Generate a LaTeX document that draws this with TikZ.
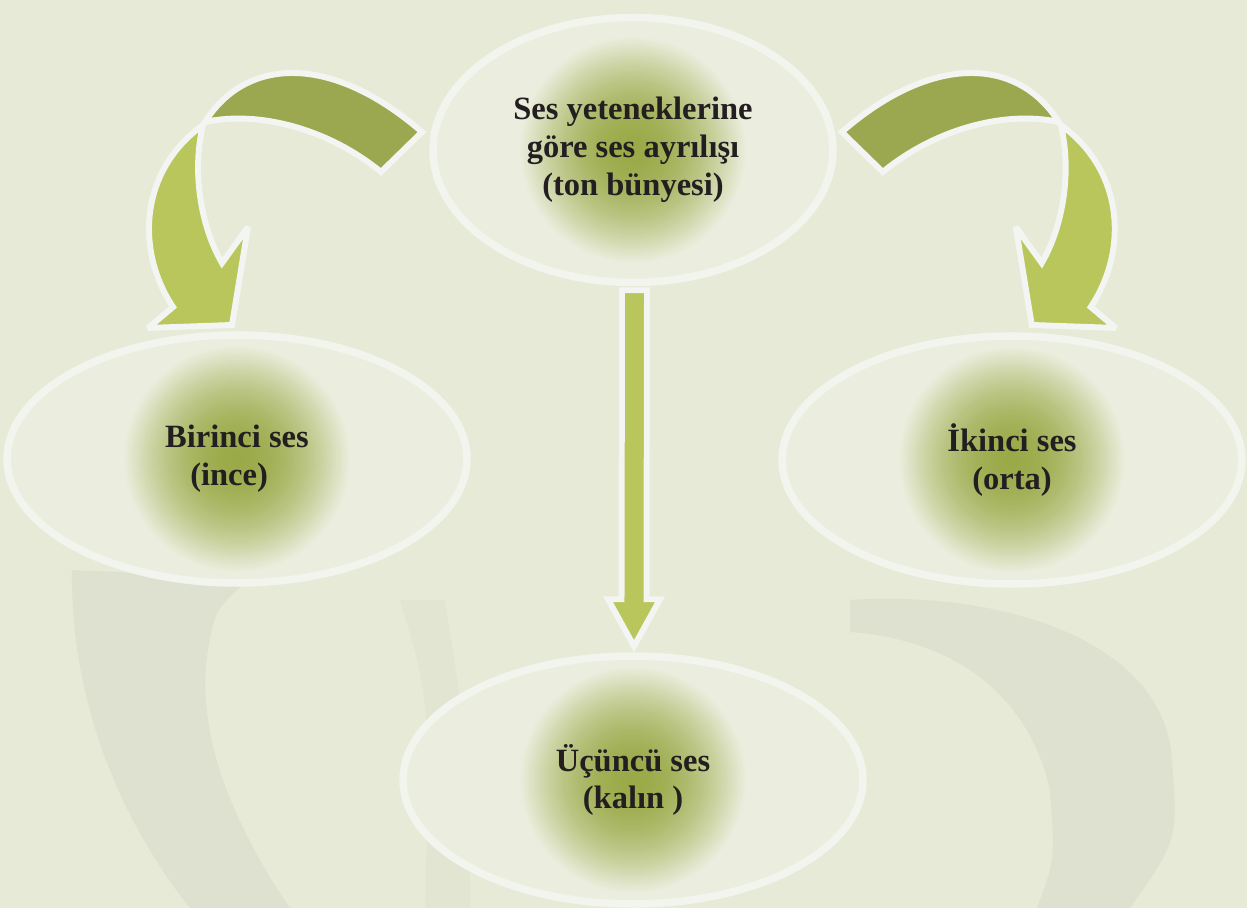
\documentclass[tikz,border=0pt]{standalone}
\usepackage{fontspec}
\setmainfont{Liberation Serif}
\usetikzlibrary{shapes.geometric,calc}

\definecolor{bgpaper}{HTML}{E7EAD7}
\definecolor{watermark}{HTML}{DEE1CF}
\definecolor{ellfill}{HTML}{EBEEDE}
\definecolor{ellline}{HTML}{F2F4EE}
\definecolor{glowgreen}{HTML}{9AAA48}
\definecolor{arrowdark}{HTML}{9CA850}
\definecolor{arrowlight}{HTML}{B9C65B}
\definecolor{arrowline}{HTML}{F3F5F2}
\definecolor{inkdark}{HTML}{231F20}

\begin{document}
\begin{tikzpicture}[x=0.02cm, y=-0.02cm, line join=round,
  bubble/.style={ellipse, inner sep=0pt, minimum width=9.2cm, minimum height=4.96cm,
    fill=ellfill, draw=ellline, line width=4.3pt, align=center, text=inkdark,
    font=\bfseries\fontsize{18.5}{21.5}\selectfont,
    path picture={
      % soft green glow in the middle
      \foreach \k in {0,...,49} {
        \pgfmathsetmacro\rr{2.3*(1-\k/50)}
        \pgfmathsetmacro\pp{100*(1-(\rr/2.3)^2)^1.1}
        \fill[glowgreen!\pp!ellfill] (path picture bounding box.center) circle (\rr cm);
      }}},
  bandback/.style={fill=arrowdark, draw=arrowline, line width=3.4pt, line join=miter, miter limit=3},
  bandfront/.style={bandback, fill=arrowlight}]

  % Paper and faint clef watermark
  \fill[bgpaper] (0,0) rectangle (1247,908);
  \useasboundingbox (0,0) rectangle (1247,908);
  \fill[watermark] (72,570) .. controls (70,700) and (120,820) .. (190,908) -- (290,908)
    .. controls (230,820) and (195,730) .. (208,650) .. controls (215,610) .. (250,578) -- cycle;
  \fill[watermark] (850,600) .. controls (1000,590) and (1165,640) .. (1172,760)
    .. controls (1178,840) .. (1130,908) -- (1037,908) .. controls (1055,860) .. (1050,790)
    .. controls (1030,700) and (960,640) .. (850,632) -- cycle;
  \fill[watermark, opacity=0.5] (400,600) .. controls (430,700) .. (425,908) -- (470,908)
    .. controls (470,760) .. (445,600) -- cycle;

  % Ellipses
  \node[bubble, minimum width=8cm, minimum height=5.3cm] (top) at (633,150)
    {Ses yeteneklerine\\göre ses ayrılışı\\(ton bünyesi)};
  \node[bubble] (first) at (237,459) {Birinci ses\\(ince)\hspace*{9pt}};
  \node[bubble] (second) at (1012,460) {İkinci ses\\(orta)};
  \node[bubble] (third) at (633,780) {Üçüncü ses\\(kalın )};

  % Curved arrows (right one is the mirror image)
  \foreach \sx/\dx in {1/0, -1/25.28} {
    \begin{scope}[xshift=\dx cm, xscale=\sx]
      \draw[bandback] (422,132) .. controls (330,52) and (245,58) .. (205,122)
        .. controls (260,110) and (330,130) .. (381,172) -- cycle;
      \draw[bandfront] (203,125) .. controls (140,170) and (135,250) .. (173,307)
        -- (148,328) -- (232,325) -- (248,227) -- (222,263)
        .. controls (200,225) and (192,170) .. (203,125) -- cycle;
    \end{scope}
  }

  % Straight arrow down
  \coordinate (dA) at ($(top.south)+(1.5,4)$);
  \coordinate (dB) at ($(third.north)+(1,-6)$);
  \draw[bandfront] ($(dA)+(-12.5,0)$) -- ($(dA)+(12.5,0)$) -- ($(dB)+(12.5,-47)$)
    -- ($(dB)+(26,-47)$) -- (dB) -- ($(dB)+(-26,-47)$) -- ($(dB)+(-12.5,-47)$) -- cycle;
\end{tikzpicture}
\end{document}
